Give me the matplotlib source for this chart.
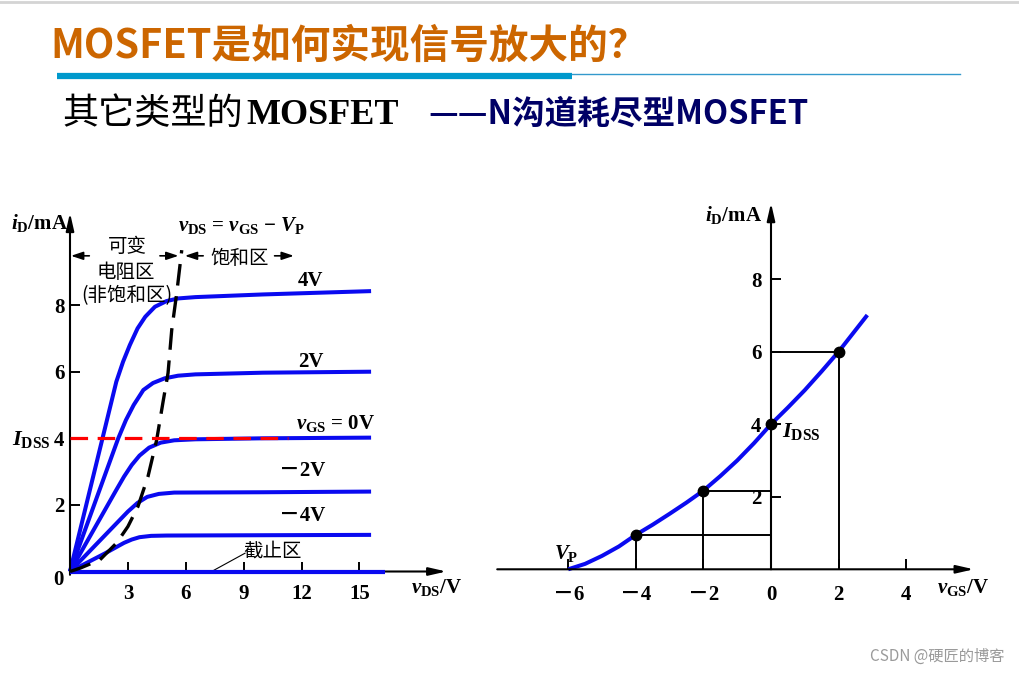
import matplotlib
matplotlib.use("Agg")
import matplotlib.pyplot as plt
from matplotlib.patches import ArrowStyle
from matplotlib.lines import Line2D

# ---------------- data ----------------
# output characteristics (left): v_DS [V] and i_D [mA] per gate voltage
vds_p4 = [0, 2.4, 2.75, 3.1, 3.5, 3.9, 4.4, 5.0, 5.6, 6.5, 10, 15.6]
id_p4 = [0, 5.7, 6.3, 6.8, 7.3, 7.65, 7.95, 8.12, 8.2, 8.24, 8.32, 8.42]
vds_p2 = [0, 2.5, 2.9, 3.3, 3.8, 4.3, 4.9, 5.6, 6.5, 10, 15.6]
id_p2 = [0, 4.0, 4.55, 5.0, 5.45, 5.66, 5.8, 5.88, 5.92, 5.97, 6.0]
vds_0 = [0, 2.4, 2.8, 3.2, 3.6, 4.1, 4.7, 5.4, 6.5, 10, 15.6]
id_0 = [0, 2.45, 2.85, 3.2, 3.48, 3.72, 3.87, 3.94, 3.97, 4.0, 4.02]
vds_m2 = [0, 2.0, 2.5, 3.0, 3.5, 4.0, 4.6, 5.4, 10, 15.6]
id_m2 = [0, 1.2, 1.5, 1.8, 2.06, 2.24, 2.33, 2.37, 2.38, 2.4]
vds_m4 = [0, 1.8, 2.3, 2.8, 3.2, 3.6, 4.2, 5.0, 15.6]
id_m4 = [0, 0.54, 0.7, 0.86, 0.96, 1.03, 1.07, 1.08, 1.1]
vds_cut = [0, 16.3]
id_cut = [0, 0]
# boundary v_DS = v_GS - V_P (dashed)
vds_bound = [0, 0.52, 1.55, 2.42, 3.0, 3.52, 4.04, 4.49, 4.82, 5.08, 5.27, 5.53, 5.79]
id_bound = [0, 0.1, 0.35, 0.86, 1.35, 1.95, 2.85, 3.95, 5.09, 5.96, 7.25, 8.36, 9.65]
idss_value = 4
idss_line_end = 11.3

left_xticks = [3, 6, 9, 12, 15]
left_yticks = [2, 4, 6, 8]

# transfer characteristic (right)
vgs_curve = [-6, -5.5, -5, -4.5, -4, -3.5, -3, -2.5, -2, -1.5, -1, -0.5,
             0, 0.5, 1, 1.5, 2, 2.85]
id_curve = [0, 0.15, 0.37, 0.63, 0.95, 1.23, 1.53, 1.84, 2.17, 2.57, 3.0, 3.48,
            4.0, 4.46, 4.94, 5.46, 6.0, 7.01]
vgs_pts = [-4, -2, 0, 2]
id_pts = [0.95, 2.17, 4.0, 6.0]

right_xticks = [-6, -4, -2, 0, 2, 4]
right_xticklabels = ["－6", "－4", "－2", "0", "2", "4"]
right_yticks = [2, 4, 6, 8]

# ---------------- styling ----------------
W, H = 1020, 675
plt.rcParams["mathtext.fontset"] = "custom"
plt.rcParams["mathtext.rm"] = "Liberation Serif:bold"
plt.rcParams["mathtext.bf"] = "Liberation Serif:bold"
plt.rcParams["mathtext.it"] = "Liberation Serif:italic:bold"
plt.rcParams["font.family"] = ["Liberation Serif", "Noto Sans CJK SC"]

SERIF = ["Liberation Serif", "Noto Sans CJK SC"]
CJK = ["Noto Sans CJK SC", "DejaVu Sans"]
BLUE = "#0a0af0"

fig = plt.figure(figsize=(W / 100, H / 100), dpi=100)


def ftext(x, y, s, **kw):
    return fig.text(x / W, 1 - y / H, s, **kw)


def make_axes(left, right, top, bottom, px0, py0, sx, sy):
    ax = fig.add_axes([left / W, 1 - bottom / H, (right - left) / W, (bottom - top) / H])
    ax.set_xlim((left - px0) / sx, (right - px0) / sx)
    ax.set_ylim((py0 - bottom) / sy, (py0 - top) / sy)
    ax.patch.set_alpha(0)
    for s in ["top", "right"]:
        ax.spines[s].set_visible(False)
    for s in ["left", "bottom"]:
        ax.spines[s].set_position(("data", 0))
        ax.spines[s].set_visible(False)
    ax.tick_params(direction="in", length=7, width=1.4, color="black")
    return ax


def axis_arrow(ax, x0, y0, x1, y1):
    ax.annotate("", xy=(x1, y1), xytext=(x0, y0),
                arrowprops=dict(arrowstyle=ArrowStyle("-|>", head_length=0.7, head_width=0.16),
                                lw=1.5, color="black", shrinkA=0, shrinkB=0,
                                mutation_scale=15))


def small_arrow(ax, x0, y0, x1, y1):
    ax.annotate("", xy=(x1, y1), xytext=(x0, y0),
                arrowprops=dict(arrowstyle=ArrowStyle("-|>", head_length=0.6, head_width=0.2),
                                lw=1.2, color="black", shrinkA=0, shrinkB=0,
                                mutation_scale=12))


# ---------------- header ----------------
fig.add_artist(Line2D([0, 1], [1 - 1.5 / H, 1 - 1.5 / H], color="#d4d4d4", lw=2))
ftext(50, 58, "MOSFET是如何实现信号放大的？", color="#CC6600", fontsize=28.5,
      fontweight="bold", family=CJK, va="baseline", ha="left")
fig.add_artist(Line2D([57 / W, 572 / W], [1 - 76 / H, 1 - 76 / H], color="#0099CC", lw=4.5,
                      solid_capstyle="butt"))
fig.add_artist(Line2D([572 / W, 960 / W], [1 - 73.5 / H, 1 - 73.5 / H], color="#3399CC", lw=1))
ftext(62, 124, "其它类型的", color="black", fontsize=26, family=CJK, va="baseline")
ftext(246, 124, "MOSFET", color="black", fontsize=26, fontweight="bold",
      family=["Liberation Serif"], va="baseline")
ftext(428, 124, "——N沟道耗尽型MOSFET", color="#000066", fontsize=23.5, fontweight="bold",
      family=CJK, va="baseline")
ftext(1005, 656, "CSDN @硬匠的博客", color="#9a9a9a", fontsize=11, family=CJK,
      ha="right", va="center")

# ---------------- left: output characteristics ----------------
axL = make_axes(0, 490, 185, 625, 70, 571.5, 19.3, 33.3)
for v, i in [(vds_p4, id_p4), (vds_p2, id_p2), (vds_0, id_0), (vds_m2, id_m2),
             (vds_m4, id_m4)]:
    axL.plot(v, i, color=BLUE, lw=2.9, solid_capstyle="butt", solid_joinstyle="round",
             zorder=3)
axL.plot(vds_cut, id_cut, color=BLUE, lw=3.0, solid_capstyle="butt", zorder=4)
axL.plot(vds_bound, id_bound, color="black", lw=2.4, linestyle=(0, (6.5, 3.2)), zorder=4)
axL.plot([0, idss_line_end], [idss_value, idss_value], color="#ff0000", lw=2.3,
         linestyle=(0, (5.5, 3.0)), zorder=5)
axis_arrow(axL, 0, 0, 19.5, 0)
axis_arrow(axL, 0, -0.1, 0, 10.77)
axL.set_xticks(left_xticks)
axL.set_xticklabels([str(t) for t in left_xticks], fontsize=15, fontweight="bold",
                    family=SERIF)
axL.set_yticks(left_yticks)
axL.set_yticklabels([str(t) for t in left_yticks], fontsize=15, fontweight="bold",
                    family=SERIF)
axL.tick_params(axis="x", pad=9)
axL.tick_params(axis="y", pad=4)
ftext(58, 580, "0", fontsize=15, fontweight="bold", ha="center", va="center")

# region arrows
small_arrow(axL, 1.0, 9.48, 0.05, 9.48)
small_arrow(axL, 4.66, 9.48, 5.62, 9.48)
small_arrow(axL, 6.9, 9.48, 5.95, 9.48)
small_arrow(axL, 10.6, 9.48, 11.6, 9.48)
# cut-off leader
axL.plot([7.4, 9.07], [0.02, 0.55], color="black", lw=0.8)

lbl = dict(fontsize=15, fontweight="bold", va="center")
ftext(39, 223, r"$i_{\mathrm{D}}$/mA", ha="center", **lbl)
ftext(241, 226, r"$v_{\mathrm{DS}}$ = $v_{\mathrm{GS}}$ − $V_{\mathrm{P}}$", ha="center",
      fontsize=15, fontweight="bold", va="center")
ftext(127, 246, "可变", family=CJK, fontsize=14, ha="center", va="center")
ftext(126, 273, "电阻区", family=CJK, fontsize=14, ha="center", va="center")
ftext(127, 296, "(非饱和区)", family=CJK, fontsize=14, ha="center", va="center")
ftext(240, 258, "饱和区", family=CJK, fontsize=14, ha="center", va="center")
ftext(298, 281, "4V", ha="left", **lbl)
ftext(298, 362, "2V", ha="left", **lbl)
ftext(296, 423, r"$v_{\mathrm{GS}}$ = 0V", ha="left", **lbl)
ftext(279, 471, "－2V", ha="left", family=SERIF, **lbl)
ftext(279, 516, "－4V", ha="left", family=SERIF, **lbl)
ftext(243, 551, "截止区", family=CJK, fontsize=14, ha="left", va="center")
ftext(51, 440, r"$I_{\mathrm{DSS}}$", ha="right", fontsize=16, fontweight="bold", va="center")
ftext(437, 588, r"$v_{\mathrm{DS}}$/V", ha="center", **lbl)

# ---------------- right: transfer characteristic ----------------
axR = make_axes(490, 1015, 185, 625, 771, 569.3, 33.8, 36.27)
axR.plot(vgs_curve, id_curve, color=BLUE, lw=2.9, solid_capstyle="butt",
         solid_joinstyle="round", zorder=3)
for v, i in zip(vgs_pts, id_pts):
    if v < 0:
        axR.plot([v, 0], [i, i], color="black", lw=1.4, zorder=2)
    elif v > 0:
        axR.plot([0, v], [i, i], color="black", lw=1.4, zorder=2)
    if v != 0:
        axR.plot([v, v], [0, i], color="black", lw=1.4, zorder=2)
axR.plot(vgs_pts, id_pts, "o", color="black", ms=7.5, zorder=5)
axis_arrow(axR, -8.1, 0, 6.0, 0)
axis_arrow(axR, 0, 0, 0, 10.1)
axR.set_xticks(right_xticks)
axR.set_xticklabels(right_xticklabels, fontsize=15, fontweight="bold", family=SERIF)
axR.set_yticks(right_yticks)
axR.set_yticklabels([str(t) for t in right_yticks], fontsize=15, fontweight="bold",
                    family=SERIF)
axR.tick_params(axis="x", pad=11)
axR.tick_params(axis="y", pad=7)

ftext(733, 215, r"$i_{\mathrm{D}}$/mA", ha="center", **lbl)
ftext(566, 553, r"$V_{\mathrm{P}}$", ha="center", **lbl)
ftext(782, 431, r"$I_{\mathrm{DSS}}$", ha="left", fontsize=16, fontweight="bold", va="center")
ftext(963, 588, r"$v_{\mathrm{GS}}$/V", ha="center", **lbl)

fig.savefig("out.png", dpi=100, facecolor="white")
